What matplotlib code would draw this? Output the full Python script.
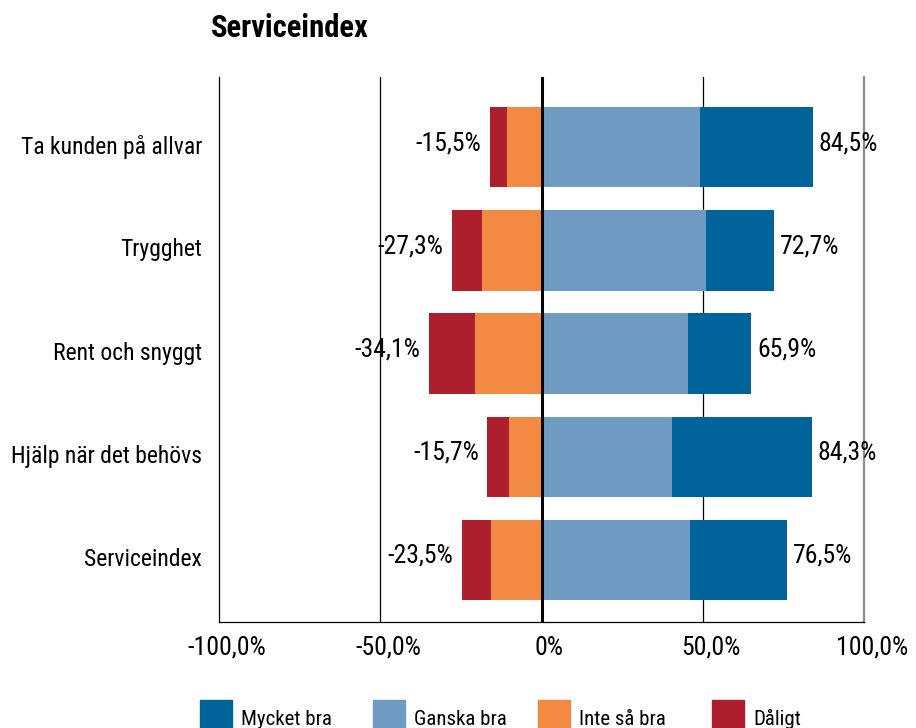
import matplotlib
matplotlib.use("Agg")
import matplotlib.pyplot as plt
from matplotlib.patches import Rectangle
from matplotlib.transforms import ScaledTranslation

plt.rcParams['font.family'] = ['Roboto Condensed', 'DejaVu Sans']

# data
categories = ["Ta kunden på allvar", "Trygghet", "Rent och snyggt",
              "Hjälp när det behövs", "Serviceindex"]
mycket_bra = [35.0, 21.1, 19.8, 43.3, 29.9]
ganska_bra = [49.3, 51.0, 45.3, 40.6, 46.2]
inte_sa_bra = [10.8, 18.3, 20.6, 10.1, 15.6]
daligt = [5.3, 9.5, 14.4, 6.7, 9.1]
pos_labels = ["84,5%", "72,7%", "65,9%", "84,3%", "76,5%"]
neg_labels = ["-15,5%", "-27,3%", "-34,1%", "-15,7%", "-23,5%"]
xticks = [-100, -50, 0, 50, 100]
xtick_labels = ["-100,0%", "-50,0%", "0%", "50,0%", "100,0%"]
series_names = ["Mycket bra", "Ganska bra", "Inte så bra", "Dåligt"]
colors = ["#00649a", "#6f9bc2", "#f28a43", "#ad1f2d"]

fig = plt.figure(figsize=(9.16, 7.28), dpi=100)
ax = fig.add_axes([219/916, 1 - 622/728, (864 - 219)/916, (622 - 77)/728])

y = list(range(len(categories)))
h = 0.78
ax.barh(y, ganska_bra, height=h, color=colors[1], zorder=2)
ax.barh(y, mycket_bra, left=ganska_bra, height=h, color=colors[0], zorder=2)
ax.barh(y, [-v for v in inte_sa_bra], height=h, color=colors[2], zorder=2)
ax.barh(y, [-v for v in daligt], left=[-v for v in inte_sa_bra], height=h,
        color=colors[3], zorder=2)

for i in y:
    right = ganska_bra[i] + mycket_bra[i]
    left = -(inte_sa_bra[i] + daligt[i])
    ax.annotate(pos_labels[i], (right, i), xytext=(4, 3), textcoords="offset points",
                ha="left", va="center", fontsize=18.5)
    ax.annotate(neg_labels[i], (left, i), xytext=(-6, 3), textcoords="offset points",
                ha="right", va="center", fontsize=18.5)

for x in (-50, 50):
    ax.axvline(x, color="black", lw=0.9, zorder=1)
ax.axvline(0, color="black", lw=2.2, zorder=3)

ax.set_xlim(-100, 100)
ax.set_ylim(4.6, -0.68)
ax.set_xticks(xticks)
ax.set_xticklabels(xtick_labels, fontsize=18.5)
ax.set_yticks(y)
ax.set_yticklabels(categories, fontsize=17)
ax.tick_params(axis="both", length=0)
ax.tick_params(axis="x", pad=10)
ax.tick_params(axis="y", pad=12)

# reference tick labels sit slightly right / slightly high
for lab in ax.get_xticklabels():
    lab.set_transform(lab.get_transform() + ScaledTranslation(8/100, 0, fig.dpi_scale_trans))
for lab in ax.get_yticklabels():
    lab.set_transform(lab.get_transform() + ScaledTranslation(0, 3/100, fig.dpi_scale_trans))

ax.spines["top"].set_visible(False)
ax.spines["left"].set_color("black")
ax.spines["left"].set_linewidth(0.9)
ax.spines["bottom"].set_linewidth(0.9)
ax.spines["right"].set_color("#8c8c8c")
ax.spines["right"].set_linewidth(1.6)

fig.text(211/916, 1 - 37/728, "Serviceindex", fontsize=22, fontweight="bold",
         ha="left", va="baseline")

# legend along the bottom
legend_x = [200, 373, 538, 712]
for k, name in enumerate(series_names):
    x0 = legend_x[k]
    fig.add_artist(Rectangle((x0/916, 0), 32/916, 28/728, color=colors[k],
                             transform=fig.transFigure))
    fig.text((x0 + 41)/916, 1 - 725/728, name, fontsize=15, ha="left", va="baseline")

fig.savefig("out.png", dpi=100)
